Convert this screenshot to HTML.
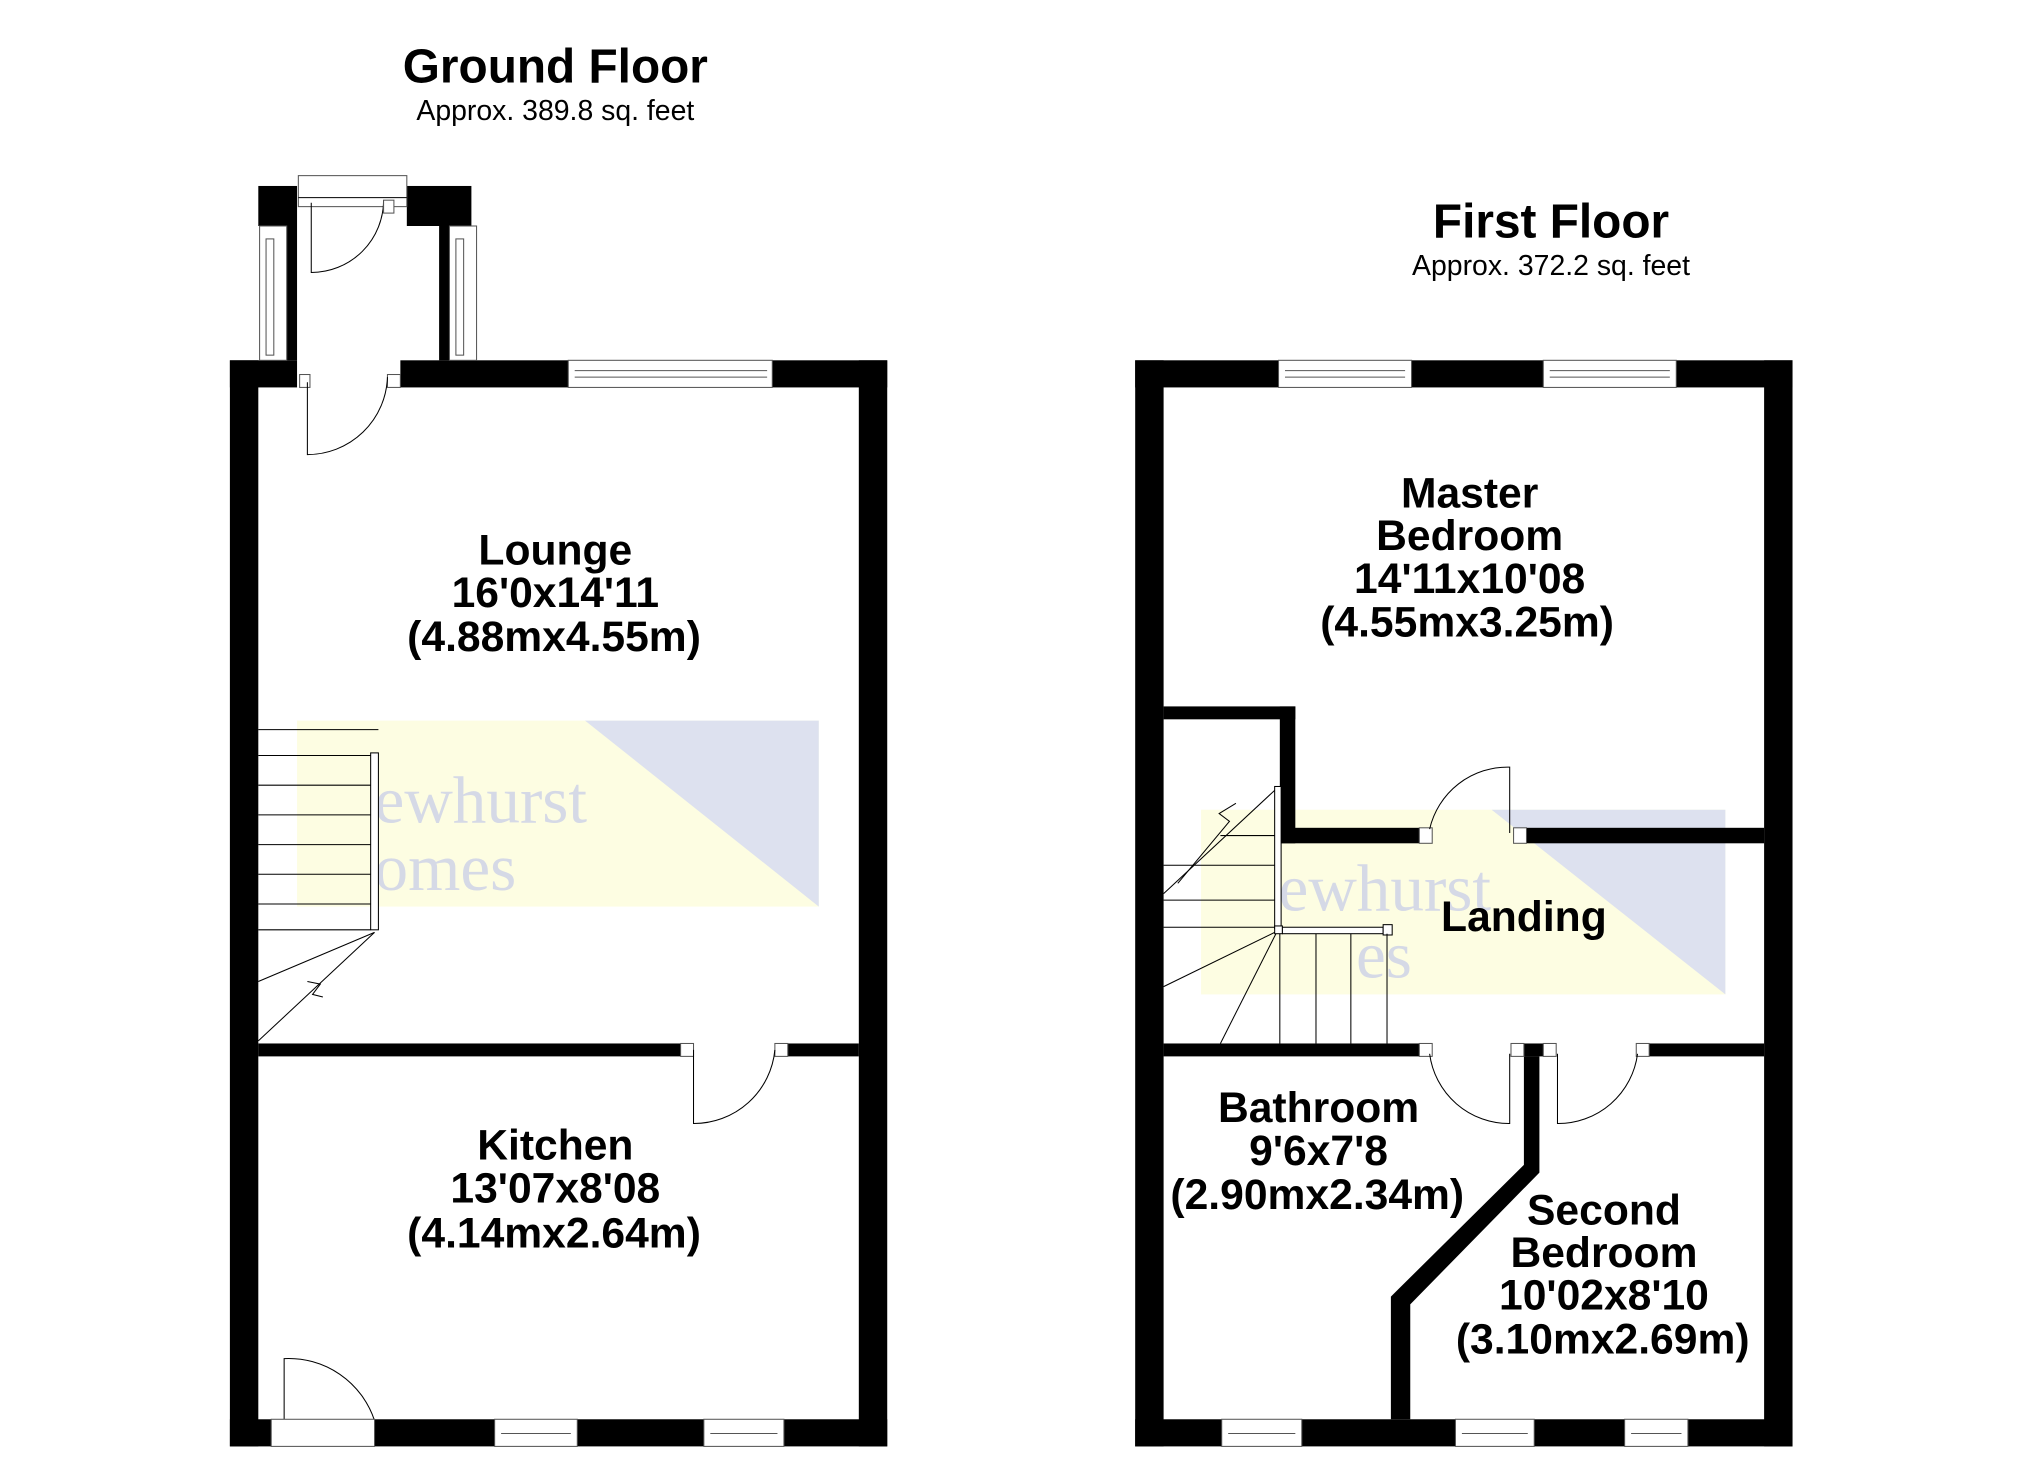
<!DOCTYPE html>
<html><head><meta charset="utf-8"><style>
html,body{margin:0;padding:0;background:#fff;}
svg{display:block;}
text{font-family:"Liberation Sans",Arial,sans-serif;}
.t{font-weight:bold;font-size:33px;text-anchor:middle;fill:#000;}
.h{font-weight:bold;font-size:37px;text-anchor:middle;}
.s{font-size:22px;text-anchor:middle;}
.wm{font-family:"Liberation Serif",serif;font-size:52px;fill:#d5d9e6;}
.ln{stroke:#000;stroke-width:0.8;fill:none;}
.win{fill:#fff;stroke:#555;stroke-width:0.8;}
</style></head><body>
<svg width="2025" height="1473" viewBox="0 0 1568 1140.6" xmlns="http://www.w3.org/2000/svg">
<rect width="1568" height="1141" fill="#fff"/>
<!-- watermarks -->
<rect x="230" y="558" width="404" height="144" fill="#fdfde2"/>
<polygon points="453,558 634,558 634,702" fill="#dde1ef"/>
<text class="wm" x="290" y="637">ewhurst</text>
<text class="wm" x="290" y="689">omes</text>
<rect x="930" y="627" width="406" height="143" fill="#fdfde2"/>
<polygon points="1155,627 1336,627 1336,770" fill="#dde1ef"/>
<text class="wm" x="990" y="705">ewhurst</text>
<text class="wm" x="1050" y="757">es</text>

<!-- titles -->
<text class="h" x="430" y="64">Ground Floor</text>
<text class="s" x="430" y="93">Approx. 389.8 sq. feet</text>
<text class="h" x="1201" y="184">First Floor</text>
<text class="s" x="1201" y="213">Approx. 372.2 sq. feet</text>

<!-- GROUND FLOOR walls -->
<g fill="#000">
<rect x="178" y="279" width="22" height="841"/>
<rect x="665" y="279" width="22" height="841"/>
<rect x="178" y="279" width="52" height="21"/>
<rect x="310" y="279" width="130" height="21"/>
<rect x="598" y="279" width="89" height="21"/>
<rect x="178" y="1099" width="32" height="21"/>
<rect x="290" y="1099" width="93" height="21"/>
<rect x="447" y="1099" width="98" height="21"/>
<rect x="607" y="1099" width="80" height="21"/>
<rect x="200" y="808" width="327" height="10"/>
<rect x="610" y="808" width="55" height="10"/>
<!-- porch -->
<rect x="200" y="144" width="30" height="31"/>
<rect x="315" y="144" width="50" height="31"/>
<rect x="222" y="175" width="8" height="104"/>
<rect x="340" y="175" width="8" height="104"/>
</g>
<rect class="win" x="231" y="136" width="84" height="24"/>
<line class="ln" x1="231" y1="153" x2="315" y2="153" stroke="#555"/>
<rect class="win" x="201" y="175" width="21" height="104"/>
<rect class="win" x="206" y="185" width="6" height="90"/>
<rect class="win" x="348" y="175" width="21" height="104"/>
<rect class="win" x="353" y="185" width="6" height="90"/>
<path class="ln" d="M241,157 L241,211 A56,56 0 0 0 297,155"/>
<rect class="win" x="297" y="155" width="8" height="10"/>
<rect class="win" x="232" y="290" width="8" height="10"/>
<rect class="win" x="300" y="290" width="10" height="10"/>
<path class="ln" d="M238,296 L238,352 A62,62 0 0 0 300,292"/>
<rect class="win" x="440" y="279" width="158" height="21"/>
<line x1="445" y1="287" x2="594" y2="287" stroke="#555" stroke-width="0.8"/>
<line x1="445" y1="292" x2="594" y2="292" stroke="#555" stroke-width="0.8"/>
<!-- stairs ground -->
<g class="ln">
<line x1="200" y1="565" x2="293" y2="565"/>
<line x1="200" y1="585" x2="287" y2="585"/>
<line x1="200" y1="608" x2="287" y2="608"/>
<line x1="200" y1="631" x2="287" y2="631"/>
<line x1="200" y1="654" x2="287" y2="654"/>
<line x1="200" y1="677" x2="287" y2="677"/>
<line x1="200" y1="700" x2="287" y2="700"/>
<line x1="200" y1="720" x2="287" y2="720"/>
<rect x="287" y="583" width="6" height="137" fill="#fff"/>
<line x1="290" y1="722" x2="200" y2="806"/>
<line x1="290" y1="722" x2="200" y2="760"/>
<path d="M238,760 L248,762 L242,770 L250,772"/>
</g>
<rect class="win" x="527" y="808" width="10" height="10"/>
<rect class="win" x="600" y="808" width="10" height="10"/>
<path class="ln" d="M537,813 L537,870 A63,63 0 0 0 600,813"/>
<path class="ln" d="M220,1100 L220,1052 A70,70 0 0 1 290,1100"/>
<rect class="win" x="210" y="1099" width="80" height="21"/>
<rect class="win" x="383" y="1099" width="64" height="21"/>
<line x1="388" y1="1110" x2="442" y2="1110" stroke="#555" stroke-width="0.8"/>
<rect class="win" x="545" y="1099" width="62" height="21"/>
<line x1="550" y1="1110" x2="602" y2="1110" stroke="#555" stroke-width="0.8"/>

<text class="t" x="430" y="437">Lounge</text>
<text class="t" x="430" y="470">16'0x14'11</text>
<text class="t" x="429" y="504">(4.88mx4.55m)</text>
<text class="t" x="430" y="898">Kitchen</text>
<text class="t" x="430" y="931">13'07x8'08</text>
<text class="t" x="429" y="966">(4.14mx2.64m)</text>

<!-- FIRST FLOOR walls -->
<g fill="#000">
<rect x="879" y="279" width="22" height="841"/>
<rect x="1366" y="279" width="22" height="841"/>
<rect x="879" y="279" width="111" height="21"/>
<rect x="1093" y="279" width="102" height="21"/>
<rect x="1298" y="279" width="90" height="21"/>
<rect x="879" y="1099" width="67" height="21"/>
<rect x="1008" y="1099" width="119" height="21"/>
<rect x="1188" y="1099" width="70" height="21"/>
<rect x="1307" y="1099" width="81" height="21"/>
<rect x="901" y="547" width="102" height="10"/>
<rect x="991" y="547" width="12" height="106"/>
<rect x="991" y="641" width="108" height="12"/>
<rect x="1182" y="641" width="184" height="12"/>
<rect x="901" y="808" width="198" height="10"/>
<rect x="1180" y="808" width="15" height="10"/>
<rect x="1277" y="808" width="89" height="10"/>
<polygon points="1180,818 1192,818 1192,908 1092,1010 1092,1099 1077,1099 1077,1004 1180,902"/>
</g>
<rect class="win" x="990" y="279" width="103" height="21"/>
<line x1="995" y1="287" x2="1088" y2="287" stroke="#555" stroke-width="0.8"/>
<line x1="995" y1="292" x2="1088" y2="292" stroke="#555" stroke-width="0.8"/>
<rect class="win" x="1195" y="279" width="103" height="21"/>
<line x1="1200" y1="287" x2="1293" y2="287" stroke="#555" stroke-width="0.8"/>
<line x1="1200" y1="292" x2="1293" y2="292" stroke="#555" stroke-width="0.8"/>
<rect class="win" x="946" y="1099" width="62" height="21"/>
<line x1="951" y1="1110" x2="1003" y2="1110" stroke="#555" stroke-width="0.8"/>
<rect class="win" x="1127" y="1099" width="61" height="21"/>
<line x1="1132" y1="1110" x2="1183" y2="1110" stroke="#555" stroke-width="0.8"/>
<rect class="win" x="1258" y="1099" width="49" height="21"/>
<line x1="1263" y1="1110" x2="1302" y2="1110" stroke="#555" stroke-width="0.8"/>
<rect class="win" x="1099" y="641" width="10" height="12"/>
<rect class="win" x="1172" y="641" width="10" height="12"/>
<path class="ln" d="M1107,642 A62,62 0 0 1 1169,594 L1169,645"/>
<rect class="win" x="1099" y="808" width="10" height="10"/>
<rect class="win" x="1170" y="808" width="10" height="10"/>
<path class="ln" d="M1107,816 A62,62 0 0 0 1169,870 L1169,816"/>
<rect class="win" x="1195" y="808" width="10" height="10"/>
<rect class="win" x="1267" y="808" width="10" height="10"/>
<path class="ln" d="M1206,816 L1206,870 A62,62 0 0 0 1268,816"/>
<g class="ln">
<rect x="987" y="609" width="5" height="110" fill="#fff"/>
<line x1="901" y1="670" x2="987" y2="670"/>
<line x1="901" y1="697" x2="987" y2="697"/>
<line x1="901" y1="718" x2="987" y2="718"/>
<line x1="945" y1="647" x2="987" y2="647"/>
<line x1="901" y1="692" x2="987" y2="612"/>
<path d="M912,684 L952,636 L944,630 L957,622"/>
<line x1="989" y1="721" x2="901" y2="764"/>
<line x1="989" y1="721" x2="945" y2="808"/>
<rect x="987" y="717" width="6" height="6" fill="#fff"/>
<rect x="993" y="718" width="78" height="5" fill="#fff"/>
<rect x="1071" y="716" width="7" height="8" fill="#fff"/>
<line x1="991" y1="723" x2="991" y2="808"/>
<line x1="1019" y1="723" x2="1019" y2="808"/>
<line x1="1046" y1="723" x2="1046" y2="808"/>
<line x1="1074" y1="723" x2="1074" y2="808"/>
</g>

<text class="t" x="1138" y="393">Master</text>
<text class="t" x="1138" y="426">Bedroom</text>
<text class="t" x="1138" y="459">14'11x10'08</text>
<text class="t" x="1136" y="493">(4.55mx3.25m)</text>
<text class="t" x="1180" y="721">Landing</text>
<text class="t" x="1021" y="869">Bathroom</text>
<text class="t" x="1021" y="902">9'6x7'8</text>
<text class="t" x="1020" y="936">(2.90mx2.34m)</text>
<text class="t" x="1242" y="948">Second</text>
<text class="t" x="1242" y="981">Bedroom</text>
<text class="t" x="1242" y="1014">10'02x8'10</text>
<text class="t" x="1241" y="1048">(3.10mx2.69m)</text>
</svg>
</body></html>
